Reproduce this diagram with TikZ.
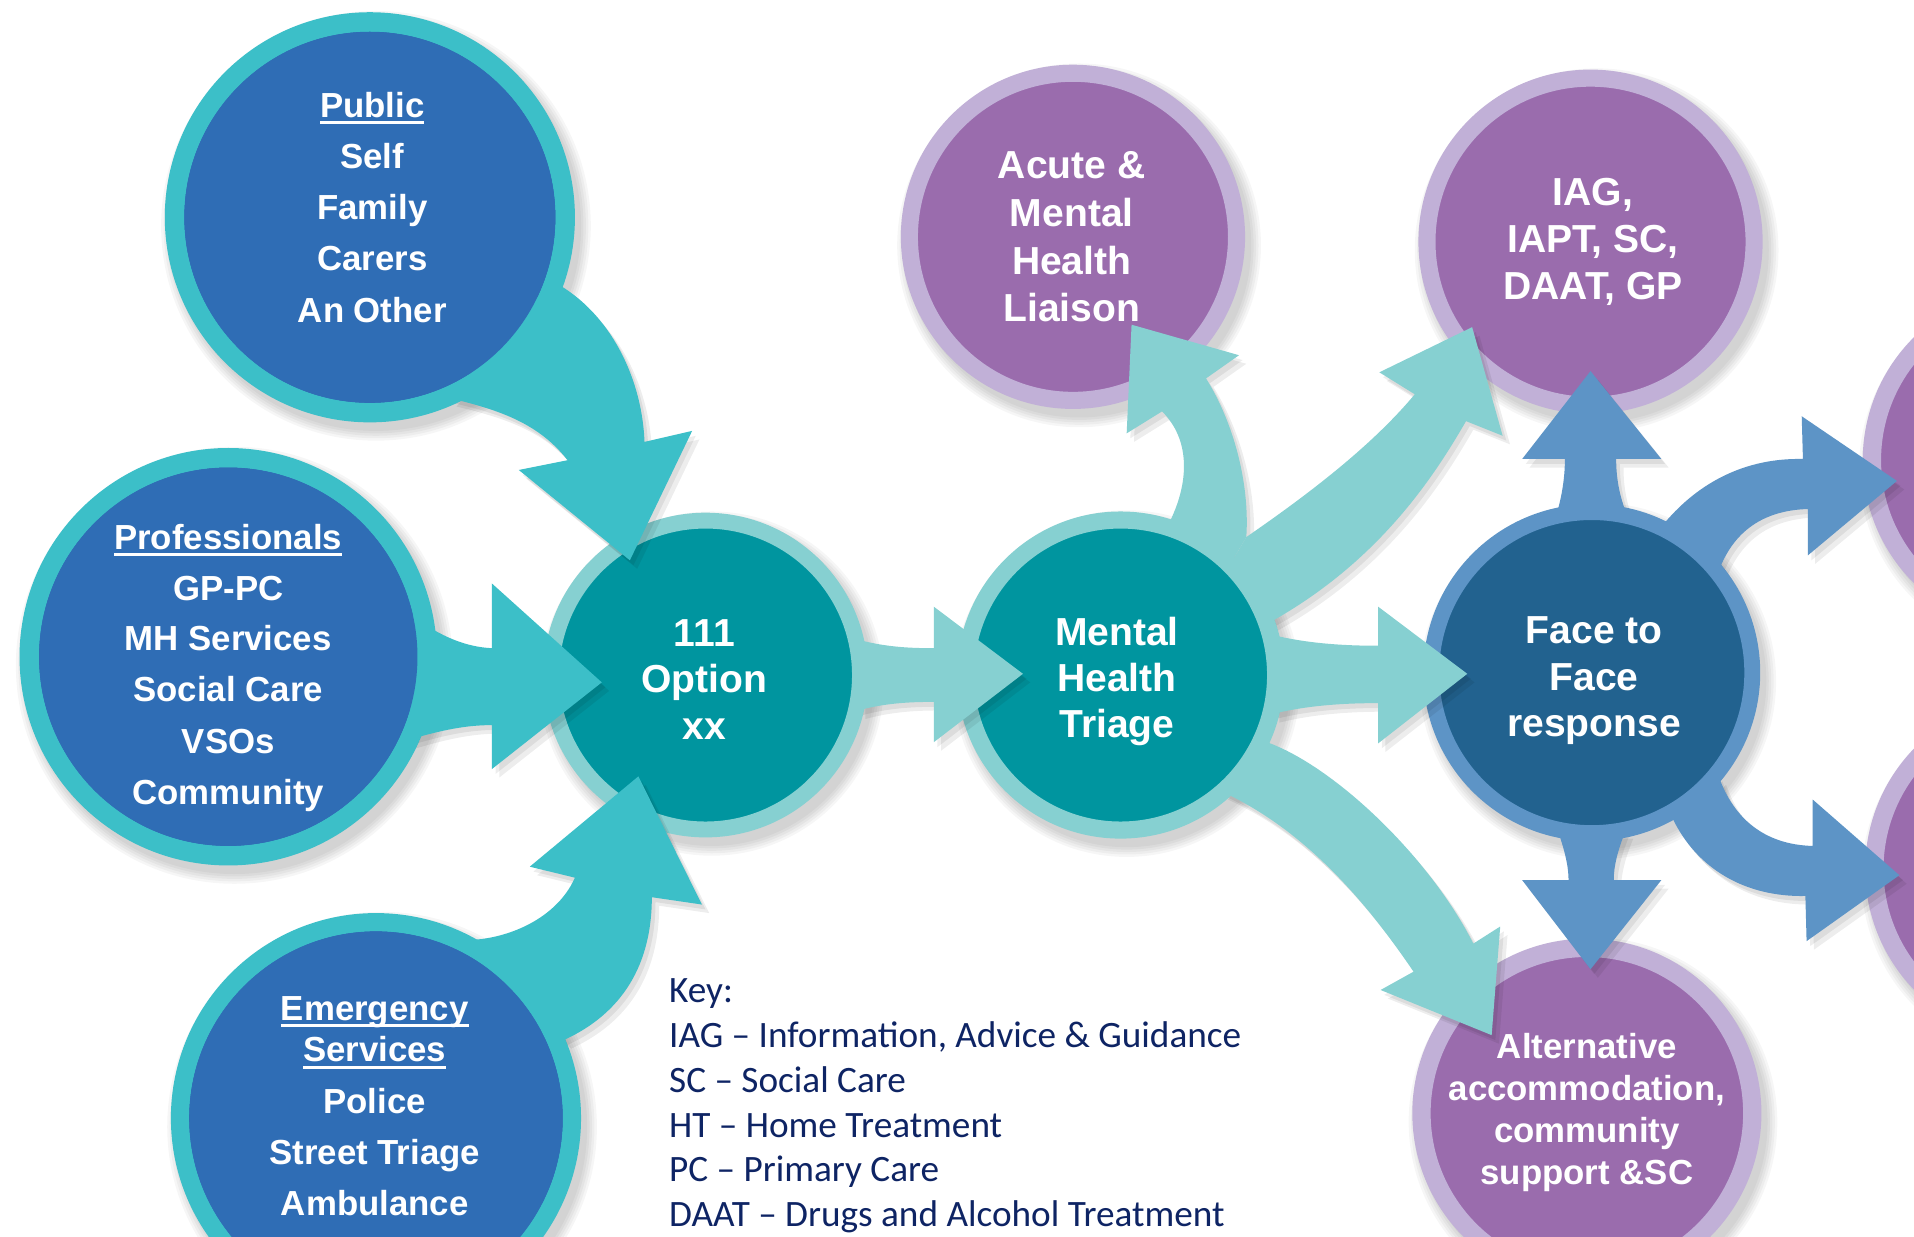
\documentclass[tikz,border=0pt]{standalone}
\usepackage{fontspec}
\setmainfont{Liberation Sans}
\newfontfamily\keyfont{Carlito}
\definecolor{cring}{RGB}{60,191,200}
\definecolor{cblue}{RGB}{47,109,181}
\definecolor{clteal}{RGB}{134,208,209}
\definecolor{cdteal}{RGB}{0,149,159}
\definecolor{cmblue}{RGB}{93,148,198}
\definecolor{cdblue}{RGB}{34,98,143}
\definecolor{clpurple}{RGB}{193,176,215}
\definecolor{cpurple}{RGB}{154,108,173}
\definecolor{cnavy}{RGB}{14,36,100}
\newcommand\myul[1]{\setbox0=\hbox{#1}\rlap{\rule[-0.2em]{\wd0}{0.09em}}\box0}
\newcommand\bsh[3]{\foreach \d in {0,2,4,6,8}{\fill[black,fill opacity=0.035] (#1+5,#2+7) circle[radius=#3+8-\d];}}
\newcommand\ashadow[1]{\fill[black,fill opacity=0.07,shift={(3,4)}] #1; \fill[black,fill opacity=0.07,shift={(6,7)}] #1;}
% arrow outlines
\def\arPub{(368,326) .. controls (405,335) and (440,345) .. (465,377) -- (425,385) -- (516,459) -- (567,353) -- (528,362) .. controls (526,310) and (500,255) .. (452,230) -- cycle}
\def\arPro{(338,505) .. controls (362,522) and (382,530) .. (403,531) -- (403,478) -- (493,559) -- (403,630) -- (403,594) .. controls (382,594) and (362,598) .. (335,606) -- cycle}
\def\arEme{(375,770) .. controls (410,772) and (455,755) .. (471,719) -- (434,710) -- (523,636) -- (575,741) -- (534,735) .. controls (534,790) and (510,830) .. (462,852) -- cycle}
\def\arOpt{(703,524) .. controls (725,530) and (745,531) .. (765,531) -- (765,497) -- (838,552) -- (765,608) -- (765,575) .. controls (745,575) and (725,576) .. (703,582) -- cycle}
\def\arFF{(1042,520) .. controls (1070,527) and (1100,529) .. (1129,529) -- (1129,497) -- (1202,552) -- (1129,609) -- (1129,576) .. controls (1100,576) and (1070,578) .. (1042,585) -- cycle}
\def\arAcu{(957,430) .. controls (975,395) and (975,360) .. (952,337) -- (923,355) -- (927,266) -- (1015,291) -- (988,310) .. controls (1010,345) and (1024,395) .. (1021,440) -- (1008,462) -- cycle}
\def\arIag{(1008,462) -- (1021,440) .. controls (1060,413) and (1120,370) .. (1159,323) -- (1130,305) -- (1206,268) -- (1231,357) -- (1201,345) .. controls (1175,390) and (1130,460) .. (1040,510) -- cycle}
\def\arAlt{(1035,607) .. controls (1090,625) and (1170,700) .. (1207,773) -- (1229,759) -- (1222,848) -- (1131,811) -- (1158,796) .. controls (1120,740) and (1070,680) .. (1000,648) -- cycle}
\def\arUp{(1275,422) .. controls (1280,405) and (1282,390) .. (1282,376) -- (1247,376) -- (1303,304) -- (1361,376) -- (1324,376) .. controls (1324,390) and (1326,405) .. (1333,422) -- cycle}
\def\arDn{(1276,680) .. controls (1282,697) and (1285,710) .. (1285,721) -- (1247,721) -- (1303,794) -- (1361,721) -- (1322,721) .. controls (1322,710) and (1325,697) .. (1332,680) -- cycle}
\def\arRt{(1408,468) .. controls (1420,435) and (1445,418) .. (1481,417) -- (1481,455) -- (1554,394) -- (1476,341) -- (1477,376) .. controls (1430,375) and (1392,395) .. (1364,428) -- cycle}
\def\arRb{(1408,636) .. controls (1420,670) and (1445,692) .. (1485,693) -- (1485,655) -- (1556,717) -- (1480,771) -- (1479,734) .. controls (1430,735) and (1390,712) .. (1370,670) -- cycle}
\begin{document}
\begin{tikzpicture}[x=1pt,y=-1pt,
  bub/.style n args={4}{circle,inner sep=0pt,outer sep=0pt,minimum size=#1pt,line width=#2pt,draw=#3,fill=#4},
  wt/.style={text=white,font=\bfseries\fontsize{28.5}{34}\selectfont,anchor=base,inner sep=0pt},
  wtl/.style={text=white,font=\bfseries\fontsize{32}{38}\selectfont,anchor=base,inner sep=0pt},
  kt/.style={text=cnavy,font=\keyfont\fontsize{30.5}{36}\selectfont,anchor=base west,inner sep=0pt}]
\useasboundingbox (0,0) rectangle (1568,1013);
\fill[white] (0,0) rectangle (1568,1013);
% shadows of the circles
\bsh{303}{178}{168}
\bsh{187}{538}{171}
\bsh{308}{916}{168}
\bsh{578}{553}{133}
\bsh{918}{553}{134}
\bsh{1304}{551}{138}
\bsh{879}{194}{141}
\bsh{1303}{198}{141}
\bsh{1300}{912}{143}
\bsh{1668}{377}{142}
\bsh{1670}{712}{142}
% circles
\node[bub={320}{16}{cring}{cblue}] (pub) at (303,178) {};
\node[bub={326}{16}{cring}{cblue}] (prof) at (187,538) {};
\node[bub={321}{15}{cring}{cblue}] (emer) at (308,916) {};
\node[bub={253}{13}{clteal}{cdteal}] (opt) at (578,553) {};
\node[bub={254}{14}{clteal}{cdteal}] (mht) at (918,553) {};
\node[bub={263}{13}{cmblue}{cdblue}] (f2f) at (1304,551) {};
\node[bub={268}{14}{clpurple}{cpurple}] (acute) at (879,194) {};
\node[bub={268}{14}{clpurple}{cpurple}] (iag) at (1303,198) {};
\node[bub={271}{15}{clpurple}{cpurple}] (alt) at (1300,912) {};
\node[bub={269}{15}{clpurple}{cpurple}] (rtop) at (1668,377) {};
\node[bub={269}{15}{clpurple}{cpurple}] (rbot) at (1670,712) {};
% arrow shadows, kept off their own source circle
\begin{scope}[even odd rule]
\clip (-20,-20) rectangle (1600,1040) (pub) circle[radius=168] (prof) circle[radius=171] (emer) circle[radius=168];
\ashadow{\arPub}
\ashadow{\arPro}
\ashadow{\arEme}
\end{scope}
\begin{scope}[even odd rule]
\clip (-20,-20) rectangle (1600,1040) (opt) circle[radius=133];
\ashadow{\arOpt}
\end{scope}
\begin{scope}[even odd rule]
\clip (-20,-20) rectangle (1600,1040) (mht) circle[radius=134];
\ashadow{\arFF}
\ashadow{\arAcu}
\ashadow{\arIag}
\ashadow{\arAlt}
\end{scope}
\begin{scope}[even odd rule]
\clip (-20,-20) rectangle (1600,1040) (f2f) circle[radius=138];
\ashadow{\arUp}
\ashadow{\arDn}
\ashadow{\arRt}
\ashadow{\arRb}
\end{scope}
% arrows
\fill[cring] \arPub;
\fill[cring] \arPro;
\fill[cring] \arEme;
\fill[clteal] \arOpt;
\fill[clteal] \arFF;
\fill[clteal] \arAcu;
\fill[clteal] \arIag;
\fill[clteal] \arAlt;
\fill[cmblue] \arUp;
\fill[cmblue] \arDn;
\fill[cmblue] \arRt;
\fill[cmblue] \arRb;
% inner discs of the source circles on top of the arrow roots
\fill[cblue] (pub) circle[radius=152];
\fill[cblue] (prof) circle[radius=155];
\fill[cblue] (emer) circle[radius=153];
% texts
\node[wt] (pub1) at (305,96) {\myul{Public}};
\node[wt] (pub2) at (305,138) {Self};
\node[wt] (pub3) at (305,180) {Family};
\node[wt] (pub4) at (305,222) {Carers};
\node[wt] (pub5) at (305,264) {An Other};
\node[wt] (prof1) at (187,450) {\myul{Professionals}};
\node[wt] (prof2) at (187,492) {GP-PC};
\node[wt] (prof3) at (187,533) {MH Services};
\node[wt] (prof4) at (187,575) {Social Care};
\node[wt] (prof5) at (187,617) {VSOs};
\node[wt] (prof6) at (187,659) {Community};
\node[wt] (emer1) at (307,836) {\myul{Emergency}};
\node[wt] (emer2) at (307,870) {\myul{Services}};
\node[wt] (emer3) at (307,912) {Police};
\node[wt] (emer4) at (307,954) {Street Triage};
\node[wt] (emer5) at (307,996) {Ambulance};
\node[wtl] (opt1) at (577,529.5) {111};
\node[wtl] (opt2) at (577,567.5) {Option};
\node[wtl] (opt3) at (577,605.5) {xx};
\node[wtl] (mht1) at (915,528.5) {Mental};
\node[wtl] (mht2) at (915,566.5) {Health};
\node[wtl] (mht3) at (915,604.5) {Triage};
\node[wtl] (f2f1) at (1306,527.5) {Face to};
\node[wtl] (f2f2) at (1306,565.5) {Face};
\node[wtl] (f2f3) at (1306,603.5) {response};
\node[wtl] (acute1) at (878,146.5) {Acute \&};
\node[wtl] (acute2) at (878,185.5) {Mental};
\node[wtl] (acute3) at (878,224.5) {Health};
\node[wtl] (acute4) at (878,263.5) {Liaison};
\node[wtl] (iag1) at (1305,168.5) {IAG,};
\node[wtl] (iag2) at (1305,207) {IAPT, SC,};
\node[wtl] (iag3) at (1305,245.5) {DAAT, GP};
\node[wt] (alt1) at (1300,867) {Alternative};
\node[wt] (alt2) at (1300,901.5) {accommodation,};
\node[wt] (alt3) at (1300,936) {community};
\node[wt] (alt4) at (1300,970.5) {support \&SC};
% key
\node[kt] (key0) at (548,821.5) {Key:};
\node[kt] (key1) at (548,858.2) {IAG – Information, Advice \& Guidance};
\node[kt] (key2) at (548,894.9) {SC – Social Care};
\node[kt] (key3) at (548,931.6) {HT – Home Treatment};
\node[kt] (key4) at (548,968.3) {PC – Primary Care};
\node[kt] (key5) at (548,1005) {DAAT – Drugs and Alcohol Treatment};
\end{tikzpicture}
\end{document}
